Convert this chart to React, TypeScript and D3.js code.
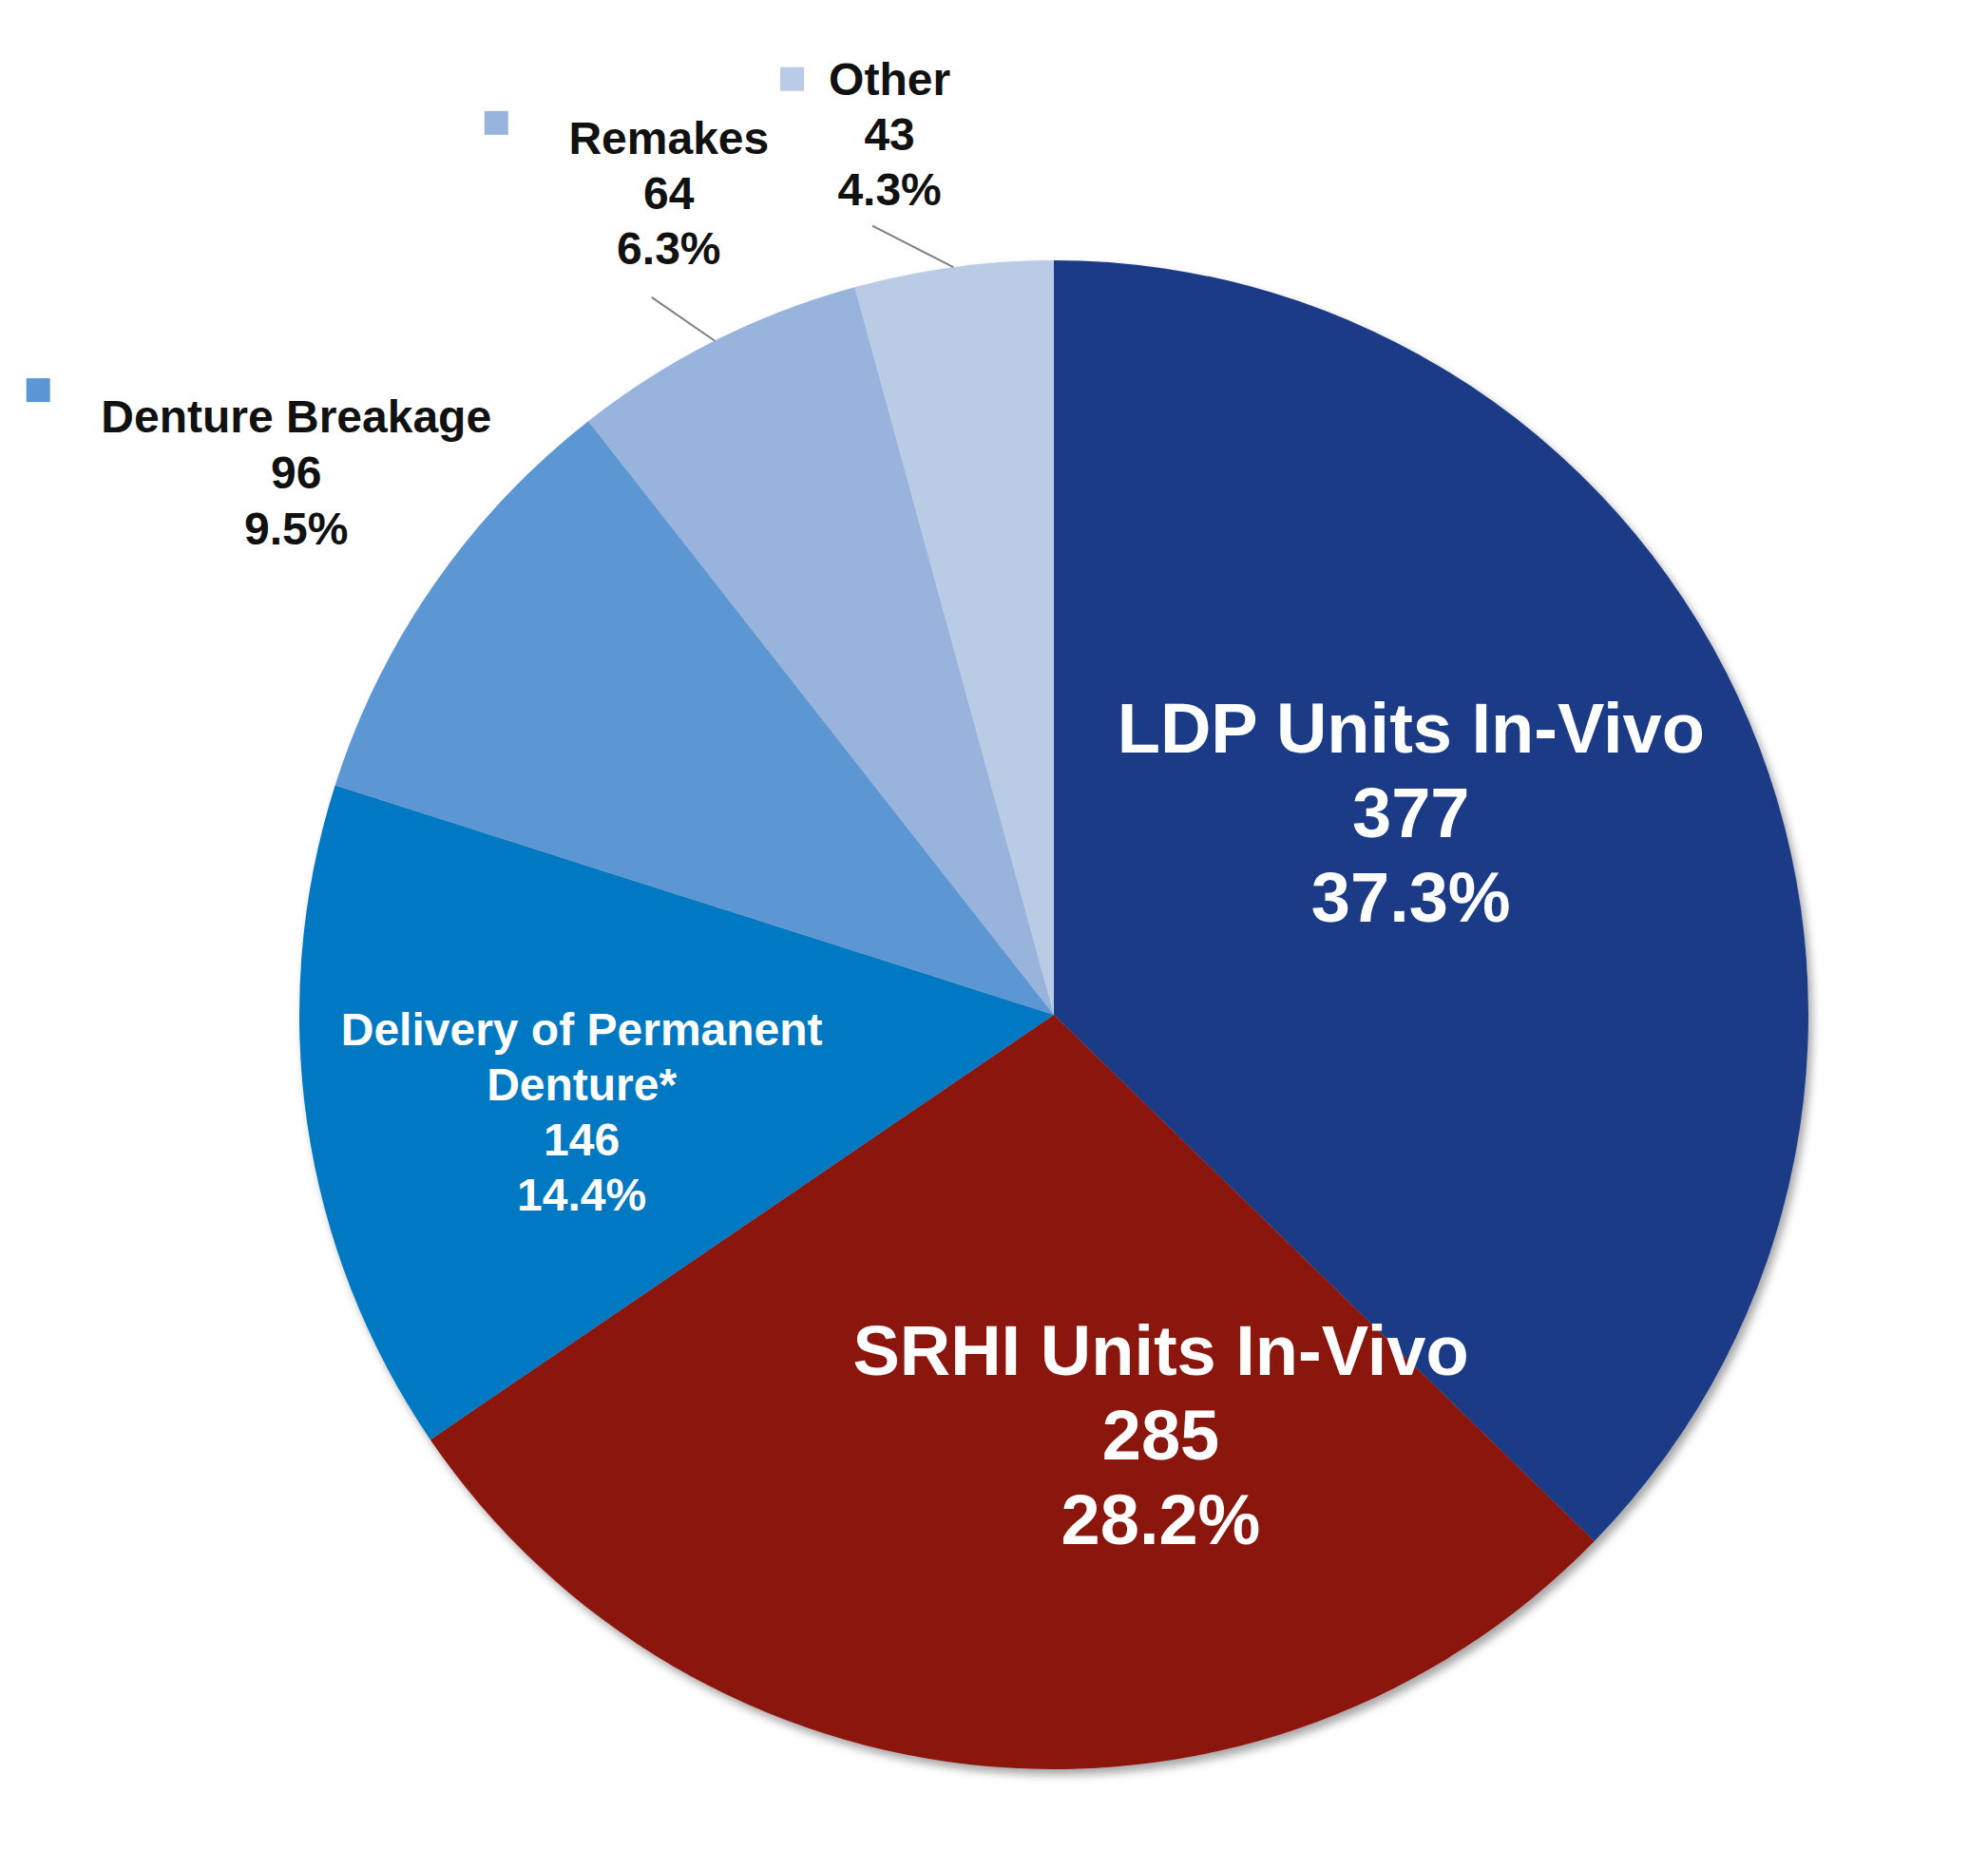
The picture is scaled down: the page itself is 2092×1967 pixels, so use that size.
import { useEffect } from "react";
import * as d3 from "d3";

// data
const sliceNames: string[][] = [
    ["LDP Units In-Vivo"],
    ["SRHI Units In-Vivo"],
    ["Delivery of Permanent", "Denture*"],
    ["Denture Breakage"],
    ["Remakes"],
    ["Other"]
];
const sliceCounts = [377, 285, 146, 96, 64, 43];
const sliceColors = ["#1D3A87", "#8B130E", "#0079C2", "#5B97D3", "#98B4DD", "#BACBE6"];

// label layout: Excel labels were dragged by hand, so each one gets a nudge
// from its anchor (centroid for inside labels, r*1.2 for outside ones)
const labelLayout = [
    {out: false, nudge: [10, -59], size: 74, lh: 89, key: null, leader: null},
    {out: false, nudge: [147, 47], size: 74, lh: 89, key: null, leader: null},
    {out: false, nudge: [-104, 45], size: 48, lh: 58, key: null, leader: null},
    {out: true, nudge: [-15, -27], size: 48, lh: 59, key: [-284, -99], leader: null},
    {out: true, nudge: [23, -14], size: 48, lh: 58, key: [-194, -86], leader: [-18, 110]},
    {out: true, nudge: [-46, 17], size: 48, lh: 58, key: [-115, -70], leader: [-18, 97]},
];

const W = 2092, H = 1967;
const cx = 1109, cy = 1068, R = 794;

const App = () => {
    useEffect(() => {
        document.body.style.margin = "0";
    }, []);

    const total = d3.sum(sliceCounts);
    const pct = d3.format(".1%");
    const pie = d3.pie<number>().sort(null).value(d => d);
    const arcs = pie(sliceCounts);
    const arc = d3.arc<d3.PieArcDatum<number>>().innerRadius(0).outerRadius(R);
    const outArc = d3.arc<d3.PieArcDatum<number>>().innerRadius(R * 1.2).outerRadius(R * 1.2);
    const edgeArc = d3.arc<d3.PieArcDatum<number>>().innerRadius(R).outerRadius(R);

    return (
        <svg width={W} height={H} style={{display: "block", background: "#fff"}}
             fontFamily="'Liberation Sans', Arial, sans-serif">
            <defs>
                <filter id="pieShadow" x="-10%" y="-10%" width="125%" height="125%">
                    <feDropShadow dx={4} dy={6} stdDeviation={5} floodColor="#000" floodOpacity={0.35}/>
                </filter>
            </defs>
            <g transform={`translate(${cx},${cy})`}>
                <g filter="url(#pieShadow)">
                    {arcs.map((d, i) => (
                        <path key={i} d={arc(d) || ""} fill={sliceColors[i]}/>
                    ))}
                </g>
                {arcs.map((d, i) => {
                    const lay = labelLayout[i];
                    const base = lay.out ? outArc.centroid(d) : arc.centroid(d);
                    const ax = base[0] + lay.nudge[0];
                    const ay = base[1] + lay.nudge[1];
                    const lines = [...sliceNames[i], `${sliceCounts[i]}`, pct(sliceCounts[i] / total)];
                    const y0 = ay - (lines.length - 1) * lay.lh / 2 + 0.35 * lay.size;
                    const edge = edgeArc.centroid(d);
                    return (
                        <g key={i}>
                            {lay.leader && (
                                <line x1={edge[0]} y1={edge[1]}
                                      x2={ax + lay.leader[0]} y2={ay + lay.leader[1]}
                                      stroke="#7f7f7f" strokeWidth={2}/>
                            )}
                            {lay.key && (
                                <rect x={ax + lay.key[0]} y={ay + lay.key[1]} width={25} height={25}
                                      fill={sliceColors[i]}/>
                            )}
                            <text textAnchor="middle" fontSize={lay.size} fontWeight="bold"
                                  fill={lay.out ? "#111" : "#fff"}>
                                {lines.map((t, j) => (
                                    <tspan key={j} x={ax} y={y0 + j * lay.lh}>{t}</tspan>
                                ))}
                            </text>
                        </g>
                    );
                })}
            </g>
        </svg>
    );
};

export default App;
